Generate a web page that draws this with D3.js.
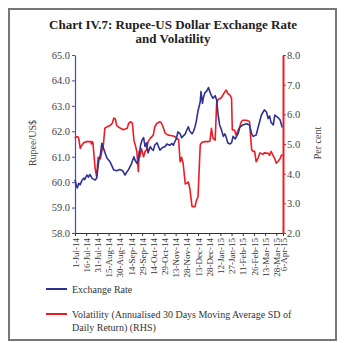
<!DOCTYPE html>
<html>
<head>
<meta charset="utf-8">
<script src="https://cdn.jsdelivr.net/npm/d3@7"></script>
<style>
  body { margin: 0; background: #fff; }
  svg { display: block; }
  text { font-family: "Liberation Serif", "DejaVu Serif", serif; fill: #333; }
</style>
</head>
<body>
<svg id="chart" width="347" height="343"></svg>
<script>
// days counted from 1-Jul-14
var startDate = new Date(2014, 6, 1);
var endDate = new Date(2015, 3, 6);

var rateDay = [0, 2, 3, 5, 7, 9, 12, 13, 16, 18, 20, 23, 27, 29, 32, 34, 36, 38, 41, 43, 47, 52, 56, 60, 64, 67, 72, 76, 79, 80, 83, 85, 88, 90, 92, 94, 96, 98, 101, 103, 105, 107, 110, 112, 114, 117, 121, 123, 127, 130, 132, 134, 136, 138, 141, 143, 148, 150, 152, 154, 157, 159, 161, 163, 165, 168, 169, 171, 172, 174, 177, 179, 181, 183, 185, 188, 190, 192, 194, 196, 199, 201, 203, 205, 208, 210, 212, 215, 219, 221, 225, 230, 234, 237, 239, 243, 246, 250, 254, 257, 259, 261, 263, 266, 268, 272, 275, 277, 278];
var rateValue = [60.10, 59.85, 59.77, 59.95, 59.90, 60.05, 60.16, 60.10, 60.28, 60.20, 60.30, 60.15, 60.08, 60.15, 60.87, 61.07, 61.53, 61.35, 61.10, 60.94, 60.80, 60.48, 60.45, 60.50, 60.45, 60.28, 60.50, 60.74, 61.00, 60.90, 60.74, 60.85, 61.46, 61.66, 61.75, 61.40, 61.55, 61.15, 61.40, 61.30, 61.25, 61.46, 61.55, 61.40, 61.26, 61.35, 61.40, 61.50, 61.45, 61.52, 61.45, 61.60, 61.70, 61.98, 61.90, 61.75, 61.90, 62.05, 62.18, 62.00, 61.90, 62.00, 62.18, 62.44, 62.80, 63.16, 63.56, 63.10, 63.30, 63.50, 63.60, 63.72, 63.55, 63.40, 63.30, 63.40, 63.23, 62.64, 62.25, 62.10, 61.80, 61.90, 61.75, 61.54, 61.50, 61.55, 61.80, 61.70, 61.93, 62.15, 62.25, 62.30, 62.25, 61.90, 61.80, 61.85, 62.20, 62.64, 62.84, 62.75, 62.50, 62.60, 62.35, 62.25, 62.64, 62.55, 62.45, 62.25, 62.15];

var volDay = [0, 1, 4, 5, 7, 9, 12, 16, 21, 22, 23, 24, 27, 29, 31, 34, 36, 38, 40, 43, 47, 50, 52, 54, 56, 61, 65, 70, 72, 75, 77, 79, 81, 83, 85, 86, 87, 89, 92, 94, 96, 98, 101, 105, 107, 110, 114, 116, 118, 121, 125, 130, 134, 136, 139, 141, 143, 145, 148, 150, 152, 154, 157, 161, 163, 165, 168, 170, 174, 179, 181, 183, 185, 188, 190, 192, 196, 201, 203, 205, 208, 210, 211, 214, 216, 219, 221, 223, 225, 230, 234, 237, 239, 241, 243, 246, 248, 252, 254, 259, 261, 263, 266, 268, 270, 272, 275, 277, 279];
var volValue = [5.19, 5.24, 5.24, 5.20, 4.85, 4.95, 5.05, 5.08, 5.08, 5.00, 5.08, 5.05, 4.18, 3.90, 4.55, 4.50, 4.75, 4.95, 5.53, 5.58, 5.62, 5.70, 5.87, 5.85, 5.62, 5.53, 5.48, 5.53, 5.70, 5.75, 5.70, 5.13, 4.95, 4.74, 4.07, 4.75, 4.57, 4.85, 4.57, 4.75, 4.80, 5.08, 5.19, 5.30, 5.58, 5.70, 5.75, 5.70, 5.58, 5.36, 5.30, 5.28, 5.25, 5.19, 5.15, 4.40, 4.55, 4.35, 3.65, 3.68, 3.72, 3.50, 2.89, 2.89, 3.10, 3.22, 4.97, 5.05, 5.08, 5.08, 5.10, 5.53, 5.20, 5.13, 6.37, 6.50, 6.55, 6.76, 6.82, 6.70, 6.65, 6.54, 5.47, 5.47, 5.30, 5.47, 5.58, 5.75, 5.80, 5.80, 5.76, 4.80, 4.75, 4.75, 4.40, 4.55, 4.70, 4.65, 4.70, 4.69, 4.62, 4.75, 4.60, 4.50, 4.35, 4.40, 4.50, 4.63, 4.60];

var leftTicks = [58, 59, 60, 61, 62, 63, 64, 65];
var rightTicks = [2, 3, 4, 5, 6, 7, 8];
var tickDays = [0, 15, 30, 45, 60, 75, 90, 105, 120, 135, 150, 165, 180, 195, 210, 225, 240, 255, 270, 279];

var titleLines = ["Chart IV.7: Rupee-US Dollar Exchange Rate", "and Volatility"];
var seriesNames = ["Exchange Rate", "Volatility (Annualised 30 Days Moving Average SD of", "Daily Return) (RHS)"];

var blue = "#2e3192", red = "#ed1c24";

var svg = d3.select("#chart");

svg.append("rect")
    .attr("x", 9).attr("y", 9).attr("width", 327).attr("height", 331)
    .attr("fill", "none").attr("stroke", "#777").attr("stroke-width", 2);

svg.selectAll(".title")
    .data(titleLines)
    .enter().append("text")
    .attr("x", 173).attr("y", function (d, i) { return 29 + i * 14; })
    .attr("text-anchor", "middle")
    .style("font-size", "13px").style("font-weight", "bold").style("fill", "#222")
    .text(function (d) { return d; });

var x0 = 75, x1 = 283, yTop = 55, yBot = 233;

var x = d3.scaleTime().domain([startDate, endDate]).range([x0, x1]);
var yL = d3.scaleLinear().domain([58, 65]).range([yBot, yTop]);
var yR = d3.scaleLinear().domain([2, 8]).range([yBot, yTop]);

function dayToDate(d) { return d3.timeDay.offset(startDate, d); }

// x axis
var xAxis = svg.append("g")
    .attr("transform", "translate(0," + yBot + ")")
    .call(d3.axisBottom(x)
        .tickValues(tickDays.map(dayToDate))
        .tickSize(3)
        .tickSizeOuter(0)
        .tickFormat(d3.timeFormat("%-d-%b-%y")));
xAxis.select(".domain").attr("stroke", "#333");
xAxis.selectAll(".tick line").attr("stroke", "#333");
xAxis.selectAll("text")
    .attr("transform", "rotate(-90)")
    .attr("text-anchor", "end")
    .attr("x", -5).attr("y", 0).attr("dy", "0.35em")
    .style("font-size", "9px").style("font-family", "Liberation Serif").style("fill", "#333");

// left axis
var leftAxis = svg.append("g")
    .attr("transform", "translate(" + x0 + ",0)")
    .call(d3.axisLeft(yL).tickValues(leftTicks).tickSize(3).tickSizeOuter(0)
        .tickFormat(d3.format(".1f")));
leftAxis.select(".domain").attr("stroke", "#4747c2").attr("stroke-width", 1.2);
leftAxis.selectAll(".tick line").attr("stroke", "#4747c2");
leftAxis.selectAll("text").attr("x", -5)
    .style("font-size", "10.5px").style("font-family", "Liberation Serif").style("fill", "#444");

// right axis
var rightAxis = svg.append("g")
    .attr("transform", "translate(" + x1 + ",0)")
    .call(d3.axisRight(yR).tickValues(rightTicks).tickSize(3).tickSizeOuter(0)
        .tickFormat(d3.format(".1f")));
rightAxis.select(".domain").attr("stroke", red).attr("stroke-width", 2);
rightAxis.selectAll(".tick line").attr("stroke", red);
rightAxis.selectAll("text").attr("x", 4)
    .style("font-size", "10.5px").style("font-family", "Liberation Serif").style("fill", "#444");

svg.append("text")
    .attr("transform", "translate(32,143) rotate(-90)")
    .attr("text-anchor", "middle").attr("dy", "0.35em")
    .style("font-size", "10px").style("fill", "#444")
    .text("Rupee/US$");

svg.append("text")
    .attr("transform", "translate(317,143) rotate(-90)")
    .attr("text-anchor", "middle").attr("dy", "0.35em")
    .style("font-size", "10px").style("fill", "#444")
    .text("Per cent");

var rateData = rateDay.map(function (d, i) { return { date: dayToDate(d), v: rateValue[i] }; });
var volData = volDay.map(function (d, i) { return { date: dayToDate(d), v: volValue[i] }; });

svg.append("path")
    .datum(volData)
    .attr("fill", "none").attr("stroke", red).attr("stroke-width", 1.6)
    .attr("stroke-linejoin", "round")
    .attr("d", d3.line().x(function (d) { return x(d.date); }).y(function (d) { return yR(d.v); }));

svg.append("path")
    .datum(rateData)
    .attr("fill", "none").attr("stroke", blue).attr("stroke-width", 1.6)
    .attr("stroke-linejoin", "round")
    .attr("d", d3.line().x(function (d) { return x(d.date); }).y(function (d) { return yL(d.v); }));

// legend
var legend = svg.append("g");
legend.append("line").attr("x1", 46).attr("x2", 67).attr("y1", 289).attr("y2", 289)
    .attr("stroke", blue).attr("stroke-width", 2);
legend.append("line").attr("x1", 46).attr("x2", 67).attr("y1", 314).attr("y2", 314)
    .attr("stroke", red).attr("stroke-width", 2);
legend.selectAll(".lt")
    .data(seriesNames)
    .enter().append("text")
    .attr("x", 72)
    .attr("y", function (d, i) { return [292.5, 317.5, 331][i]; })
    .style("font-size", "10px").style("fill", "#333")
    .text(function (d) { return d; });
</script>
</body>
</html>
